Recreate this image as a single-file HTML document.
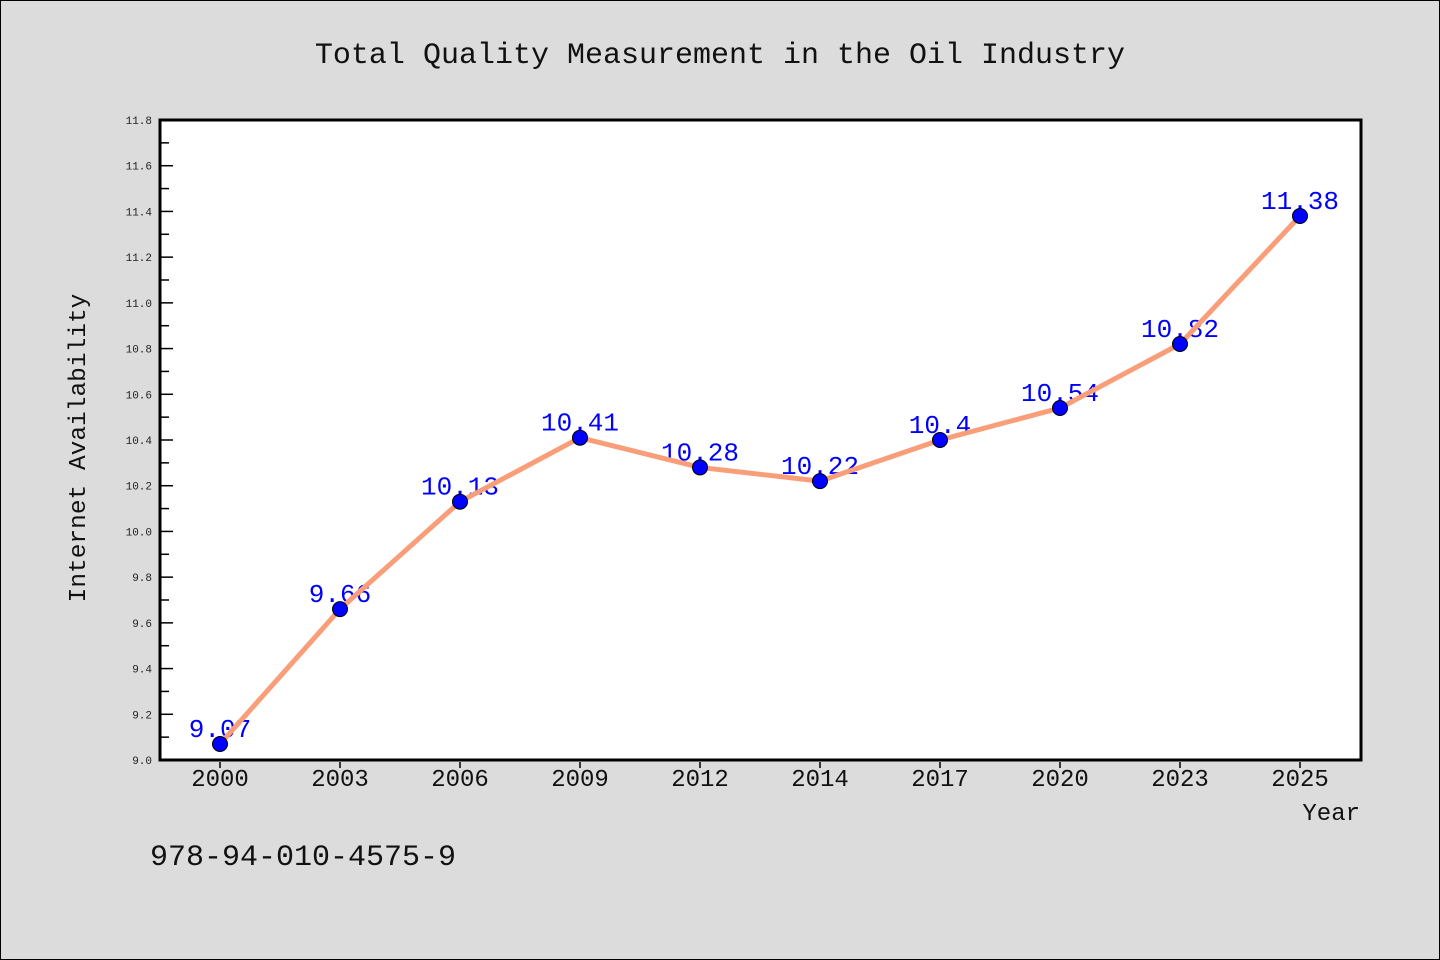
<!DOCTYPE html>
<html><head><meta charset="utf-8"><style>
html,body{margin:0;padding:0;background:#dcdcdc;}
svg{display:block;font-family:"WenQuanYi Zen Hei Mono","Liberation Mono",monospace;}
</style></head><body>
<svg id="chart" width="1440" height="960">
<rect x="0.5" y="0.5" width="1439" height="959" fill="#dcdcdc" stroke="#000"/>
<text x="720" y="63" font-size="30" text-anchor="middle" fill="#111">Total Quality Measurement in the Oil Industry</text>
<rect x="160" y="120" width="1201" height="640" fill="#fff"/>
<g id="yaxis"></g>
<g id="xaxis"></g>
<g id="labels"></g>
<g id="series"></g>
<rect x="160" y="120" width="1201" height="640" fill="none" stroke="#000" stroke-width="3"/>
<text transform="translate(85,448) rotate(-90)" font-size="24.5" text-anchor="middle" fill="#111">Internet Availability</text>
<text x="1360" y="820" font-size="24" text-anchor="end" fill="#111">Year</text>
<text x="150" y="865" font-size="30" fill="#111">978-94-010-4575-9</text>
</svg>
<script>
const categories = ["2000","2003","2006","2009","2012","2014","2017","2020","2023","2025"];
const values = [9.07,9.66,10.13,10.41,10.28,10.22,10.4,10.54,10.82,11.38];
const valueLabels = ["9.07","9.66","10.13","10.41","10.28","10.22","10.4","10.54","10.82","11.38"];
const yTicks = ["9.0","9.2","9.4","9.6","9.8","10.0","10.2","10.4","10.6","10.8","11.0","11.2","11.4","11.6","11.8"];

const NS="http://www.w3.org/2000/svg";
const yMin=9.0,yMax=11.8,plotTop=120,plotBottom=760,plotLeft=160;
function yPos(v){return plotBottom-(v-yMin)/(yMax-yMin)*(plotBottom-plotTop);}
function xPos(i){return 220+i*120;}
function mk(tag,attrs,parent){const e=document.createElementNS(NS,tag);for(const k in attrs)e.setAttribute(k,attrs[k]);parent.appendChild(e);return e;}
const ya=document.getElementById('yaxis'),xa=document.getElementById('xaxis'),lb=document.getElementById('labels'),sr=document.getElementById('series');
yTicks.forEach((t,i)=>{
  const v=parseFloat(t),yy=yPos(v);
  const l=mk('line',{x1:plotLeft,x2:plotLeft+13,y1:yy,y2:yy,stroke:'#000','stroke-width':1.5},ya);
  
  
  const tx=mk('text',{x:152,y:yy+4,'font-size':11,'text-anchor':'end',fill:'#222'},ya);
  tx.textContent=t;
  
  
  if(i<yTicks.length-1){
    const ym=yPos(v+0.1);
    const m=mk('line',{x1:plotLeft,x2:plotLeft+9,y1:ym,y2:ym,stroke:'#000','stroke-width':1.5},ya);
    
    
  }
});
categories.forEach((c,i)=>{
  const t=mk('line',{x1:xPos(i),x2:xPos(i),y1:762,y2:768,stroke:'#000','stroke-width':1.5},xa);
  
  
  const tx=mk('text',{x:xPos(i),y:786,'font-size':24,'text-anchor':'middle',fill:'#111'},xa);
  tx.textContent=c;
  
  
});
values.forEach((v,i)=>{
  const tx=mk('text',{x:xPos(i),y:yPos(v)-7,'font-size':26,'text-anchor':'middle',fill:'#0000ff'},lb);
  tx.textContent=valueLabels[i];
  
  
});
const pl=mk('polyline',{points:values.map((v,i)=>xPos(i)+','+yPos(v)).join(' '),fill:'none',stroke:'#fa9e7a','stroke-width':5,'stroke-linejoin':'round'},sr);


values.forEach((v,i)=>{
  const c=mk('circle',{cx:xPos(i),cy:yPos(v),r:7.5,fill:'#0000ff',stroke:'#000','stroke-width':1},sr);
  
  
});
</script>
</body></html>
